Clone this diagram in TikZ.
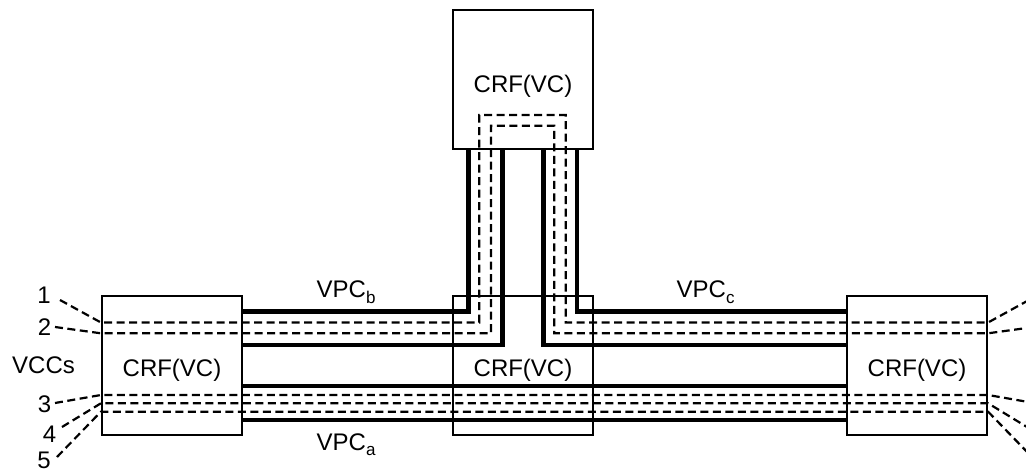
\documentclass[tikz,border=0pt]{standalone}
\usepackage{fontspec}
\setmainfont{Liberation Sans}
\newcommand{\subsc}[1]{\raisebox{-5.5pt}{\fontsize{17}{19}\selectfont #1}}
\begin{document}
\begin{tikzpicture}[x=1pt,y=-1pt,
  crf/.style={draw, line width=2.2pt, minimum width=140pt, minimum height=139pt, inner sep=0pt, font=\fontsize{24}{28}\selectfont},
  lbl/.style={anchor=base, inner sep=0pt, font=\fontsize{24}{28}\selectfont},
  vpcline/.style={line width=4.4pt},
  vccline/.style={line width=2.2pt, dash pattern=on 8pt off 4.5pt}]
\useasboundingbox (0,0) rectangle (1026,473);
\clip (0,0) rectangle (1026,473);
% boxes
\node[crf] (L) at (172,365.5) {};
\node[crf] (M) at (523,365.5) {};
\node[crf] (R) at (917,365.5) {};
\node[crf] (T) at (523,79.5) {};
\node[lbl] (tL) at (172,376.7) {CRF(VC)};
\node[lbl] (tM) at (523,376.7) {CRF(VC)};
\node[lbl] (tR) at (917,376.7) {CRF(VC)};
\node[lbl] (tT) at (523,92.5) {CRF(VC)};
% levels
\coordinate (yb1) at (0,311.5);
\coordinate (yv1) at (0,322.5);
\coordinate (yv2) at (0,333.3);
\coordinate (yb2) at (0,345);
\coordinate (ya1) at (0,386);
\coordinate (yv3) at (0,395);
\coordinate (yv4) at (0,403.3);
\coordinate (yv5) at (0,411.7);
\coordinate (ya2) at (0,420);
\coordinate (yt1) at (0,115);
\coordinate (yt2) at (0,125.7);
\coordinate (xb1) at (468.3,0);
\coordinate (xd1) at (479.3,0);
\coordinate (xd2) at (491,0);
\coordinate (xb2) at (502.3,0);
\coordinate (xc2) at (543.3,0);
\coordinate (xd3) at (554.3,0);
\coordinate (xd4) at (565.7,0);
\coordinate (xc1) at (576.7,0);
% thick VPC lines
\draw[vpcline] (L.east |- yb1) -| (xb1 |- T.south);
\draw[vpcline] (L.east |- yb2) -| (xb2 |- T.south);
\draw[vpcline] (xc1 |- T.south) |- (R.west |- yb1);
\draw[vpcline] (xc2 |- T.south) |- (R.west |- yb2);
\draw[vpcline] (L.east |- ya1) -- (R.west |- ya1);
\draw[vpcline] (L.east |- ya2) -- (R.west |- ya2);
% labels
\node[lbl] (n1) at (44,303) {1};
\node[lbl] (n2) at (44.5,335) {2};
\node[lbl] (vccs) at (43.5,373) {VCCs};
\node[lbl] (n3) at (44.5,412) {3};
\node[lbl] (n4) at (49.5,442) {4};
\node[lbl] (n5) at (44,468) {5};
\node[lbl, anchor=base west] (vb) at (316.5,298) {VPC\subsc{b}};
\node[lbl, anchor=base west] (vc) at (676.5,298) {VPC\subsc{c}};
\node[lbl, anchor=base west] (va) at (316.5,450) {VPC\subsc{a}};
% leader endpoints
\coordinate (s1) at (60,300);
\coordinate (s2) at (55,327);
\coordinate (s3) at (55,403);
\coordinate (s4) at (62,427);
\coordinate (s5) at (57,457);
\coordinate (e1) at (1029,300);
\coordinate (e2) at (1034,327);
\coordinate (e3) at (1034,403);
\coordinate (e4) at (1027,427);
\coordinate (e5) at (1032,457);
% VCC dashed lines
\draw[vccline] (s1) -- (L.west |- yv1) -- (xd1 |- yv1) -- (xd1 |- yt1) -- (xd4 |- yt1) -- (xd4 |- yv1) -- (R.east |- yv1) -- (e1);
\draw[vccline] (s2) -- (L.west |- yv2) -- (xd2 |- yv2) -- (xd2 |- yt2) -- (xd3 |- yt2) -- (xd3 |- yv2) -- (R.east |- yv2) -- (e2);
\draw[vccline] (s3) -- (L.west |- yv3) -- (R.east |- yv3) -- (e3);
\draw[vccline] (s4) -- (L.west |- yv4) -- (R.east |- yv4) -- (e4);
\draw[vccline] (s5) -- (L.west |- yv5) -- (R.east |- yv5) -- (e5);
\end{tikzpicture}
\end{document}
